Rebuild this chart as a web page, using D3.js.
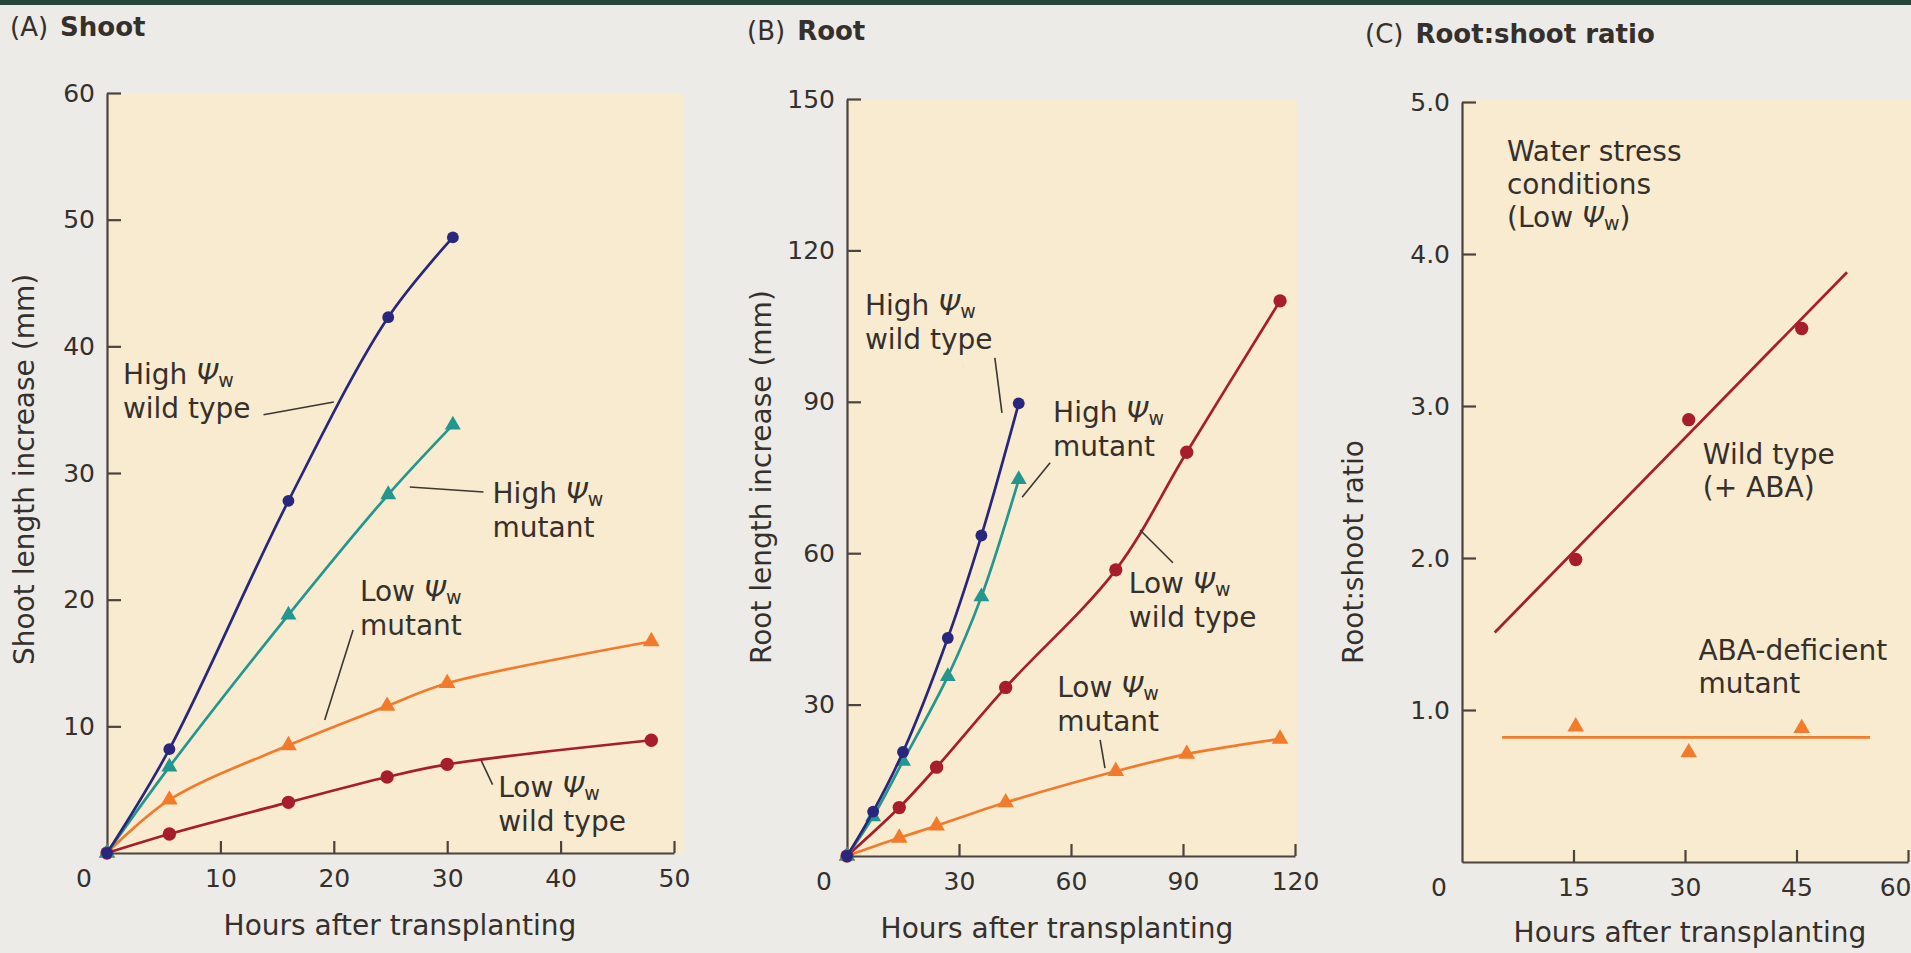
<!DOCTYPE html>
<html>
<head>
<meta charset="utf-8">
<script src="https://cdn.jsdelivr.net/npm/d3@7"></script>
<style>
  body { margin: 0; background: #ecebe7; }
  svg { display: block; }
  text { font-family: "DejaVu Sans", "Open Sans", sans-serif; fill: #35302c; }
</style>
</head>
<body>
<svg id="fig" width="1911" height="953"></svg>
<script>
// ===== Data =====
// (A) Shoot length increase (mm)
const shootHighHours = [0, 5.5, 16, 24.8, 30.5];
const shootHighWT    = [0, 8.2, 27.8, 42.3, 48.6];
const shootHighMut   = [0, 6.8, 18.8, 28.3, 33.8];
const shootLowHours  = [0, 5.5, 16, 24.7, 30, 48];
const shootLowMut    = [0, 4.2, 8.5, 11.6, 13.4, 16.7];
const shootLowWT     = [0, 1.5, 4.0, 6.0, 7.0, 8.9];

// (B) Root length increase (mm)
const rootHighHours = [0, 7, 15, 27, 36, 46];
const rootHighWT    = [0, 8.8, 20.6, 43.2, 63.5, 89.7];
const rootHighMut   = [0, 7.8, 18.8, 35.6, 51.4, 74.6];
const rootLowHours  = [0, 14, 24, 42.5, 72, 91, 116];
const rootLowWT     = [0, 9.6, 17.6, 33.4, 56.7, 80, 110];
const rootLowMut    = [0, 3.6, 6.0, 10.6, 16.8, 20.2, 23.2];

// (C) Root:shoot ratio
const ratioHours    = [15.3, 30.5, 45.7];
const ratioWT       = [1.99, 2.91, 3.51];
const ratioMut      = [0.89, 0.72, 0.88];
const ratioWTFitHours  = [4.4, 51.8];
const ratioWTFit       = [1.51, 3.88];
const ratioMutFitHours = [5.4, 54.9];
const ratioMutFit      = [0.82, 0.82];

// axis ticks
const shootXTicks = [10, 20, 30, 40, 50];
const shootYTicks = [10, 20, 30, 40, 50, 60];
const rootXTicks  = [30, 60, 90, 120];
const rootYTicks  = [30, 60, 90, 120, 150];
const ratioXTicks = [15, 30, 45, 60];
const ratioYTicks = [1, 2, 3, 4, 5];

// ===== Colours =====
const NAVY = "#29277d";
const TEAL = "#23968f";
const ORANGE = "#f27b2b";
const RED = "#a81d2a";
const AXIS = "#4a433e";

const svg = d3.select("#fig");

// dark strip along the top of the page
svg.append("rect").attr("x", 0).attr("y", 0).attr("width", 1911).attr("height", 5).attr("fill", "#25463a");

function zip(xs, ys) { return xs.map((h, i) => ({ h: h, v: ys[i] })); }

// ===== Panel builder =====
function makePanel(cfg) {
  const x = d3.scaleLinear().domain(cfg.xDomain).range(cfg.xRange);
  const y = d3.scaleLinear().domain(cfg.yDomain).range(cfg.yRange);
  const g = svg.append("g");

  // beige plot area
  g.append("rect")
    .attr("x", cfg.xRange[0])
    .attr("y", cfg.bgTop)
    .attr("width", cfg.bgRight - cfg.xRange[0])
    .attr("height", cfg.yRange[0] - cfg.bgTop)
    .attr("fill", "#f8ebcf");

  const xAxis = d3.axisBottom(x).tickValues(cfg.xTicks).tickSizeInner(-12).tickSizeOuter(0).tickPadding(16);
  const yAxis = d3.axisLeft(y).tickValues(cfg.yTicks).tickSizeInner(-14).tickSizeOuter(0).tickPadding(12);
  if (cfg.yFormat) yAxis.tickFormat(d3.format(cfg.yFormat));

  const xg = g.append("g").attr("transform", `translate(0,${cfg.yRange[0]})`).call(xAxis);
  const yg = g.append("g").attr("transform", `translate(${cfg.xRange[0]},0)`).call(yAxis);
  [xg, yg].forEach(a => {
    a.attr("font-size", 25).attr("font-family", null);
    a.select(".domain").attr("stroke", AXIS).attr("stroke-width", 2.2);
    a.selectAll(".tick line").attr("stroke", AXIS).attr("stroke-width", 2.2);
    a.selectAll(".tick text").attr("fill", "#35302c");
  });

  // shared "0" at the corner
  g.append("text")
    .attr("x", x(0) - 23)
    .attr("y", cfg.yRange[0] + 16)
    .attr("dy", "0.71em")
    .attr("text-anchor", "middle")
    .attr("font-size", 25)
    .text("0");

  // axis titles
  g.append("text")
    .attr("x", cfg.xTitle[0]).attr("y", cfg.xTitle[1])
    .attr("text-anchor", "middle")
    .attr("font-size", 28)
    .text("Hours after transplanting");
  g.append("text")
    .attr("transform", `translate(${cfg.yTitle[0]},${cfg.yTitle[1]}) rotate(-90)`)
    .attr("text-anchor", "start")
    .attr("font-size", 28)
    .text(cfg.yLabel);

  // panel title
  const t = g.append("text").attr("x", cfg.title[0]).attr("y", cfg.title[1]).attr("font-size", 26);
  t.append("tspan").text(cfg.letter);
  t.append("tspan").attr("dx", 12).attr("font-weight", "bold").text(cfg.name);

  return { g, x, y, xg };
}

function drawLine(p, pts, color, curved) {
  const line = d3.line()
    .x(d => p.x(d.h))
    .y(d => p.y(d.v))
    .curve(curved ? d3.curveCatmullRom.alpha(0.5) : d3.curveLinear);
  p.g.append("path")
    .datum(pts)
    .attr("fill", "none")
    .attr("stroke", color)
    .attr("stroke-width", 2.7)
    .attr("d", line);
}

function drawMarkers(p, pts, color, shape, size) {
  const sym = d3.symbol().type(shape === "tri" ? d3.symbolTriangle : d3.symbolCircle).size(size);
  p.g.selectAll(null)
    .data(pts)
    .enter()
    .append("path")
    .attr("transform", d => `translate(${p.x(d.h)},${p.y(d.v)})`)
    .attr("d", sym)
    .attr("fill", color);
}

function drawSeries(p, pts, color, shape, size) {
  drawLine(p, pts, color, true);
  drawMarkers(p, pts, color, shape, size);
}

// multi-line label with Greek psi + subscript w, as one text element
function label(p, h, v, lines, lineH) {
  const x0 = p.x(h), y0 = p.y(v);
  const t = p.g.append("text").attr("x", x0).attr("y", y0).attr("font-size", 28);
  lines.forEach((segs, i) => {
    segs.forEach((s, j) => {
      const ts = t.append("tspan").text(s[0]);
      if (j === 0) ts.attr("x", x0).attr("y", y0 + i * lineH);
      if (s[1] === "psi") ts.attr("font-style", "italic");
      if (s[1] === "sub") ts.attr("font-size", 19).attr("dy", 3);
      if (s[1] === "after") ts.attr("dy", -3);
    });
  });
}

function leader(p, h1, v1, h2, v2) {
  p.g.append("line")
    .attr("x1", p.x(h1)).attr("y1", p.y(v1))
    .attr("x2", p.x(h2)).attr("y2", p.y(v2))
    .attr("stroke", "#3b3632")
    .attr("stroke-width", 1.6);
}

const highLine = [["High "], ["\u03A8", "psi"], ["w", "sub"]];
const lowLine = [["Low "], ["\u03A8", "psi"], ["w", "sub"]];

// ===== (A) Shoot =====
const pA = makePanel({
  xDomain: [0, 50], xRange: [107, 674],
  yDomain: [0, 60], yRange: [853, 93],
  bgTop: 93, bgRight: 684,
  xTicks: shootXTicks, yTicks: shootYTicks,
  xTitle: [400, 935], yTitle: [34, 665],
  yLabel: "Shoot length increase (mm)",
  title: [10, 36], letter: "(A)", name: "Shoot"
});
drawSeries(pA, zip(shootLowHours, shootLowWT), RED, "circle", 140);
drawSeries(pA, zip(shootLowHours, shootLowMut), ORANGE, "tri", 120);
drawSeries(pA, zip(shootHighHours, shootHighMut), TEAL, "tri", 110);
drawSeries(pA, zip(shootHighHours, shootHighWT), NAVY, "circle", 110);

label(pA, 1.4, 37.0, [highLine, [["wild type"]]], 34);
leader(pA, 13.8, 34.6, 20.0, 35.6);
label(pA, 34.0, 27.6, [highLine, [["mutant"]]], 34);
leader(pA, 26.7, 28.9, 33.2, 28.5);
label(pA, 22.3, 19.9, [lowLine, [["mutant"]]], 34);
leader(pA, 21.7, 17.6, 19.2, 10.5);
label(pA, 34.5, 4.4, [lowLine, [["wild type"]]], 34);
leader(pA, 33.0, 7.3, 34.0, 5.4);

// ===== (B) Root =====
const pB = makePanel({
  xDomain: [0, 120], xRange: [847, 1295],
  yDomain: [0, 150], yRange: [856, 99],
  bgTop: 99, bgRight: 1297,
  xTicks: rootXTicks, yTicks: rootYTicks,
  xTitle: [1057, 938], yTitle: [771, 664],
  yLabel: "Root length increase (mm)",
  title: [747, 40], letter: "(B)", name: "Root"
});
drawSeries(pB, zip(rootLowHours, rootLowMut), ORANGE, "tri", 120);
drawSeries(pB, zip(rootLowHours, rootLowWT), RED, "circle", 140);
drawSeries(pB, zip(rootHighHours, rootHighMut), TEAL, "tri", 110);
drawSeries(pB, zip(rootHighHours, rootHighWT), NAVY, "circle", 110);

label(pB, 4.8, 107.2, [highLine, [["wild type"]]], 34);
leader(pB, 39.6, 98.7, 41.5, 87.8);
label(pB, 55.2, 86.0, [highLine, [["mutant"]]], 34);
leader(pB, 54.4, 77.9, 46.9, 71.1);
label(pB, 75.5, 52.1, [lowLine, [["wild type"]]], 34);
leader(pB, 78.5, 64.6, 87.3, 58.1);
label(pB, 56.3, 31.5, [lowLine, [["mutant"]]], 34);
leader(pB, 67.8, 23.0, 69.1, 17.4);

// ===== (C) Root:shoot ratio =====
const pC = makePanel({
  xDomain: [0, 60], xRange: [1462, 1908],
  yDomain: [0, 5], yRange: [862, 102],
  bgTop: 100, bgRight: 1911,
  xTicks: ratioXTicks, yTicks: ratioYTicks, yFormat: ".1f",
  xTitle: [1690, 942], yTitle: [1363, 664],
  yLabel: "Root:shoot ratio",
  title: [1365, 43], letter: "(C)", name: "Root:shoot ratio"
});
// the last tick label sits against the page edge
pC.xg.selectAll(".tick text").filter(d => d === 60).attr("text-anchor", "end").attr("x", 3);

// fitted lines without markers, data points on their own
drawLine(pC, zip(ratioWTFitHours, ratioWTFit), RED, false);
drawMarkers(pC, zip(ratioHours, ratioWT), RED, "circle", 140);
drawLine(pC, zip(ratioMutFitHours, ratioMutFit), ORANGE, false);
drawMarkers(pC, zip(ratioHours, ratioMut), ORANGE, "tri", 120);

label(pC, 6.05, 4.61, [[["Water stress"]], [["conditions"]], [["(Low "], ["\u03A8", "psi"], ["w", "sub"], [")", "after"]]], 33);
label(pC, 32.4, 2.62, [[["Wild type"]], [["(+ ABA)"]]], 33);
label(pC, 31.8, 1.33, [[["ABA-deficient"]], [["mutant"]]], 33);
</script>
</body>
</html>
